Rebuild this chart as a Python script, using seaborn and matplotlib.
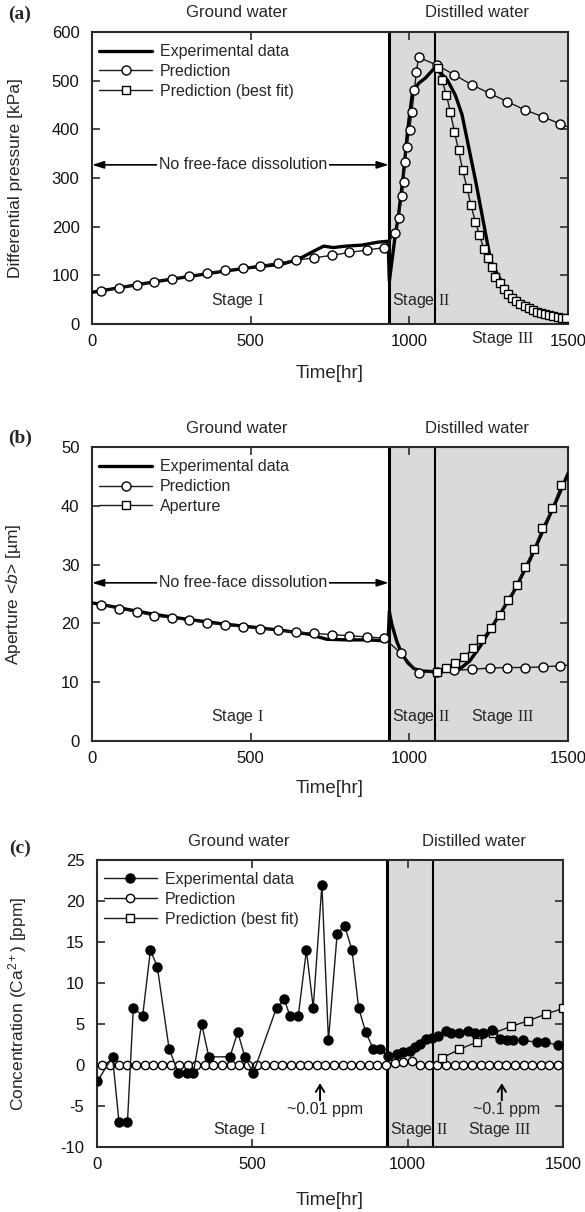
import matplotlib
matplotlib.use("Agg")
import matplotlib.pyplot as plt
import matplotlib.transforms as mtransforms
import seaborn as sns

# stage boundaries [hr]
STAGE1_END = 935
STAGE2_END = 1080

# ---- (a) differential pressure [kPa] ----
t_exp_a = [0, 100, 200, 300, 400, 500, 600, 650, 700, 730, 760, 800, 850, 900, 933, 937,
           955, 965, 980, 995, 1010, 1030, 1050, 1078, 1100, 1120, 1145, 1166, 1210, 1256,
           1276, 1300, 1330, 1360, 1400, 1450, 1500]
p_exp_a = [65, 76, 87, 97, 107, 116, 123, 133, 150, 160, 157, 160, 162, 168, 170, 88,
           180, 220, 300, 400, 477, 495, 505, 525, 515, 501, 470, 430, 290, 131,
           104, 75, 55, 40, 28, 18, 12]

t_pred_a = [29, 85, 142, 194, 251, 307, 363, 419, 476, 530, 587, 644, 700, 756, 811, 868,
            920, 956, 966, 977, 982, 987, 992, 1001, 1008, 1016, 1022, 1029, 1087, 1142,
            1198, 1253, 1308, 1364, 1420, 1476, 1500]
p_pred_a = [68, 73, 80, 87, 93, 99, 104, 110, 115, 120, 126, 131, 136, 141, 147, 152,
            157, 187, 217, 262, 292, 333, 364, 399, 436, 481, 518, 548, 532, 512,
            491, 474, 457, 440, 426, 411, 405]

t_fit_a = [1089, 1103, 1117, 1129, 1142, 1155, 1168, 1182, 1194, 1208, 1221, 1234, 1247,
           1261, 1271, 1285, 1298, 1311, 1324, 1337, 1350, 1363, 1376, 1389, 1402, 1415,
           1428, 1441, 1454, 1467, 1480, 1493]
p_fit_a = [525, 501, 470, 436, 395, 357, 316, 279, 244, 210, 183, 155, 135,
           118, 97, 84, 72, 62, 54, 47, 41, 36, 32, 28, 25, 22,
           20, 18, 16, 14, 13, 12]

# ---- (b) aperture [um] ----
t_exp_b = [0, 100, 200, 300, 400, 500, 600, 680, 740, 800, 870, 933, 937, 945, 960, 975,
           995, 1015, 1040, 1078, 1120, 1160, 1190, 1222, 1274, 1327, 1380, 1432, 1474, 1500]
b_exp_b = [23.5, 22.5, 21.5, 20.7, 20.0, 19.4, 18.8, 18.2, 17.3, 17.2, 17.2, 17.0, 22.0, 19.8,
           17.0, 15.0, 13.3, 12.3, 11.9, 11.8, 11.9, 12.3, 13.6, 16.0, 20.6, 25.2, 30.8, 37.1,
           42.2, 45.5]

t_pred_b = [29, 85, 142, 194, 251, 307, 363, 419, 476, 530, 587, 644, 700, 756, 811, 868,
            920, 974, 1029, 1087, 1142, 1198, 1253, 1308, 1364, 1420, 1476, 1500]
b_pred_b = [23.2, 22.5, 21.9, 21.3, 20.9, 20.5, 20.1, 19.7, 19.4, 19.1, 18.8, 18.5, 18.3,
            18.1, 17.9, 17.7, 17.5, 14.9, 11.6, 11.8, 12.0, 12.2, 12.4, 12.5, 12.5, 12.6,
            12.8, 12.9]

t_ap_b = [1087, 1116, 1144, 1172, 1201, 1227, 1256, 1285, 1311, 1338, 1364, 1393, 1419,
          1451, 1478]
b_ap_b = [11.8, 12.4, 13.2, 14.3, 15.8, 17.3, 19.2, 21.5, 24.0, 26.6, 29.6, 32.7, 36.2,
          39.7, 43.5]

# ---- (c) Ca2+ concentration [ppm] ----
t_exp_c = [1, 50, 71, 98, 117, 147, 172, 194, 232, 262, 291, 310, 337, 360, 428, 453, 476,
           503, 578, 603, 621, 648, 674, 696, 724, 745, 773, 797, 821, 842, 865, 889, 911,
           938, 965, 986, 1007, 1023, 1040, 1059, 1077, 1099, 1123, 1141, 1166, 1195, 1217,
           1243, 1270, 1297, 1319, 1340, 1370, 1415, 1442, 1485]
c_exp_c = [-2, 1, -7, -7, 7, 6, 14, 12, 2, -1, -1, -1, 5, 1, 1, 4, 1,
           -1, 7, 8, 6, 6, 14, 7, 22, 3, 16, 17, 14, 7, 4, 2, 2,
           1.1, 1.3, 1.6, 1.7, 2.2, 2.6, 3.2, 3.3, 3.5, 4.1, 3.9, 3.9, 4.1, 3.9,
           3.9, 4.3, 3.2, 3.1, 3.1, 3.0, 2.8, 2.8, 2.4]

t_pred_c = [15, 43, 70, 98, 126, 153, 181, 209, 237, 264, 292, 320, 347, 375, 403, 431, 458,
            486, 514, 541, 569, 597, 625, 652, 680, 708, 735, 763, 791, 819, 846, 874, 902,
            930, 958, 985, 1013, 1041, 1068, 1096, 1124, 1152, 1179, 1207, 1235, 1262, 1290,
            1318, 1346, 1373, 1401, 1429, 1456, 1484]
c_pred_c = [0, 0, 0, 0, 0, 0, 0, 0, 0, 0, 0, 0, 0, 0, 0, 0, 0,
            0, 0, 0, 0, 0, 0, 0, 0, 0, 0, 0, 0, 0, 0, 0, 0,
            0, 0.3, 0.4, 0.5, 0, 0, 0, 0, 0, 0, 0, 0, 0, 0,
            0, 0, 0, 0, 0, 0, 0]

t_fit_c = [1112, 1166, 1222, 1276, 1332, 1388, 1444, 1500]
c_fit_c = [0.9, 1.9, 2.8, 3.9, 4.7, 5.4, 6.2, 6.9]

SHADE = "#dadada"
EDGE = "#2b2b2b"

sns.set_style("ticks")
plt.rcParams["font.family"] = ["Liberation Sans", "DejaVu Sans"]
plt.rcParams.update({
    "axes.unicode_minus": False,
    "mathtext.fontset": "custom",
    "mathtext.rm": "Liberation Serif",
    "mathtext.it": "Liberation Sans:italic",
    "mathtext.sf": "Liberation Sans",
})


def frame(ax, ylim, yticks, ylabel, xlab_y):
    ax.axvspan(STAGE1_END, 1500, color=SHADE, lw=0, zorder=0)
    ax.axvline(STAGE1_END, color="black", lw=2.2, zorder=1)
    ax.axvline(STAGE2_END, color="black", lw=1.5, zorder=1)
    ax.set_xlim(0, 1500)
    ax.set_ylim(*ylim)
    ax.set_xticks([0, 500, 1000, 1500])
    ax.set_yticks(yticks)
    ax.tick_params(direction="in", top=True, right=True, length=6, width=1.2,
                   labelsize=12, color=EDGE, labelcolor="#111111")
    ax.tick_params(axis="x", pad=7)
    ax.tick_params(axis="y", pad=9)
    for s in ax.spines.values():
        s.set_linewidth(1.5)
        s.set_color(EDGE)
    ax.set_xlabel("Time[hr]", fontsize=13.5)
    ax.set_ylabel(ylabel, fontsize=12.5)
    ax.xaxis.set_label_coords(0.5, xlab_y)
    ax.yaxis.set_label_coords(-0.145, 0.5)


def headers(ax, ypos):
    tr = mtransforms.blended_transform_factory(ax.transData, ax.transAxes)
    ax.text(455, ypos, "Ground water", transform=tr, ha="center", va="center", fontsize=12)
    ax.text(1212, ypos, "Distilled water", transform=tr, ha="center", va="center", fontsize=12)


def no_dissolution(ax, y):
    ax.annotate("", xy=(0, y), xytext=(STAGE1_END, y),
                arrowprops=dict(arrowstyle="<|-|>,head_length=0.7,head_width=0.22",
                                color="black", lw=1.2, shrinkA=0, shrinkB=0))
    ax.text(475, y, "No free-face dissolution", ha="center", va="center", fontsize=11.5,
            bbox=dict(facecolor="white", edgecolor="none", pad=1.5), zorder=5)


def stages(ax, y, y3=None):
    ax.text(458, y, r"Stage $\mathrm{I}$", ha="center", va="center", fontsize=11.5)
    ax.text(1038, y, r"Stage $\mathrm{II}$", ha="center", va="center", fontsize=11.5, zorder=6)
    ax.text(1295, y if y3 is None else y3, r"Stage $\mathrm{III}$", ha="center",
            va="center", fontsize=11.5, clip_on=False)


line_kw = dict(color="#1a1a1a", linewidth=1.0, markeredgecolor="black",
               markeredgewidth=1.0, errorbar=None)
leg_kw = dict(loc="upper left", bbox_to_anchor=(0.015, 0.958), frameon=False,
              fontsize=11.5, handlelength=3.3, handletextpad=0.5, labelspacing=0.3,
              borderaxespad=0, borderpad=0)

fig = plt.figure(figsize=(5.85, 12.12), dpi=100)
ax_a = fig.add_axes([0.1573, 0.7327, 0.8137, 0.2409])
ax_b = fig.add_axes([0.1573, 0.3886, 0.8137, 0.2426])
ax_c = fig.add_axes([0.1658, 0.0536, 0.7966, 0.2368])

# (a)
frame(ax_a, (0, 600), range(0, 601, 100), "Differential pressure [kPa]", -0.14)
sns.lineplot(x=t_exp_a, y=p_exp_a, ax=ax_a, color="black", linewidth=2.4,
             errorbar=None, label="Experimental data", zorder=3)
sns.lineplot(x=t_pred_a, y=p_pred_a, ax=ax_a, marker="o", markersize=6.5,
             markerfacecolor="white", markevery=list(range(len(t_pred_a) - 1)),
             label="Prediction", zorder=4, **line_kw)
sns.lineplot(x=t_fit_a, y=p_fit_a, ax=ax_a, marker="s", markersize=6,
             markerfacecolor="white", label="Prediction (best fit)", zorder=4, **line_kw)
ax_a.legend(**leg_kw)
headers(ax_a, 1.068)
no_dissolution(ax_a, 327)
stages(ax_a, 49, -29)

# (b)
frame(ax_b, (0, 50), range(0, 51, 10), "Aperture <$\\mathit{b}$> [\u00b5m]", -0.132)
sns.lineplot(x=t_exp_b, y=b_exp_b, ax=ax_b, color="black", linewidth=2.4,
             errorbar=None, label="Experimental data", zorder=3)
sns.lineplot(x=t_pred_b, y=b_pred_b, ax=ax_b, marker="o", markersize=6.5,
             markerfacecolor="white", markevery=list(range(len(t_pred_b) - 1)),
             label="Prediction", zorder=4, **line_kw)
sns.lineplot(x=t_ap_b, y=b_ap_b, ax=ax_b, marker="s", markersize=6,
             markerfacecolor="white", label="Aperture", zorder=4, **line_kw)
ax_b.legend(**leg_kw)
headers(ax_b, 1.062)
no_dissolution(ax_b, 26.9)
stages(ax_b, 4.1)

# (c)
frame(ax_c, (-10, 25), range(-10, 26, 5), r"Concentration (Ca$^{\mathsf{2+}}$) [ppm]", -0.155)
sns.lineplot(x=t_exp_c, y=c_exp_c, ax=ax_c, marker="o", markersize=6.5,
             markerfacecolor="black", label="Experimental data", zorder=4, **line_kw)
sns.lineplot(x=t_pred_c, y=c_pred_c, ax=ax_c, marker="o", markersize=6,
             markerfacecolor="white", label="Prediction", zorder=3, **line_kw)
sns.lineplot(x=t_fit_c, y=c_fit_c, ax=ax_c, marker="s", markersize=6,
             markerfacecolor="white", label="Prediction (best fit)", zorder=3, **line_kw)
ax_c.legend(**leg_kw)
headers(ax_c, 1.063)
stages(ax_c, -7.9)
for tx, txt_x, txt in [(718, 735, "~0.01 ppm"), (1303, 1319, "~0.1 ppm")]:
    ax_c.annotate("", xy=(tx, -2.2), xytext=(tx, -4.3),
                  arrowprops=dict(arrowstyle="->,head_length=0.5,head_width=0.3",
                                  color="black", lw=1.4, shrinkA=0, shrinkB=0))
    ax_c.text(txt_x, -5.4, txt, ha="center", va="center", fontsize=11.5)

# panel letters
for ypix, letter in [(14, "(a)"), (438, "(b)"), (848, "(c)")]:
    fig.text(20 / 585, 1 - ypix / 1212, letter, ha="center", va="center",
             fontsize=14, fontweight="bold", family="Liberation Serif")

fig.savefig("out.png", dpi=100)
